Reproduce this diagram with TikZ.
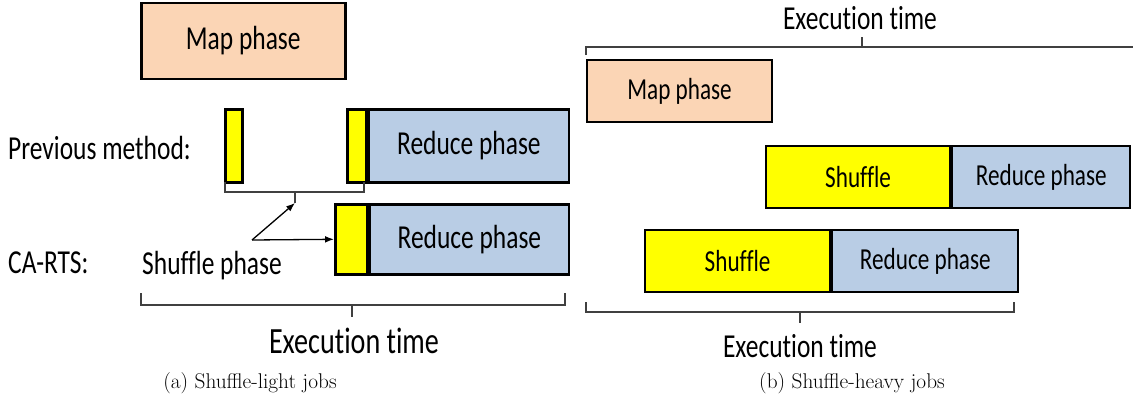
\documentclass[tikz,border=0pt]{standalone}
\usepackage{fontspec}
\newfontfamily\calib[FakeStretch=0.76, Ligatures=NoCommon]{Carlito}
\usetikzlibrary{positioning,arrows.meta}

\definecolor{mapfill}{RGB}{251,213,181}
\definecolor{redfill}{RGB}{185,205,229}
\definecolor{shufill}{RGB}{255,255,0}

\begin{document}
\begin{tikzpicture}[x=1pt, y=-1pt, >=Latex,
    every node/.style={font=\calib\fontsize{33.5}{38}\selectfont, inner sep=0pt},
    mapbox/.style={draw, line width=2.6pt, fill=mapfill, anchor=north west},
    shufbox/.style={draw, line width=2.6pt, fill=shufill, anchor=north west},
    redbox/.style={draw, line width=2.6pt, fill=redfill, anchor=north west},
    brace/.style={draw=black!75, line width=1.1pt},
    small/.style={font=\calib\fontsize{30.5}{35}\selectfont},
    capt/.style={font=\fontsize{21.3}{25}\selectfont}]
  \useasboundingbox (0,0) rectangle (1133,415);

  % (a) shuffle-light
  \node[mapbox, minimum width=204, minimum height=76] (mapa) at (140,1.5) {Map phase};
  \node[anchor=west] (prevl) at (8,148) {Previous method:};
  \node[anchor=west] (carl) at (8,263) {CA-RTS:};

  \node[shufbox, minimum width=17, minimum height=73] (pys1) at (224,108) {};
  \node[shufbox, minimum width=19, minimum height=73] (pys2) at (346,108) {};
  \node[redbox, minimum width=200, minimum height=73] (prd) at (pys2.north east) {Reduce phase};

  \node[shufbox, minimum width=32, minimum height=70] (cys) at (334,203) {};
  \node[redbox, minimum width=199, minimum height=70] (crd) at (cys.north east) {Reduce phase};

  \node (shl) at (212,266) {Shuffle phase};

  \draw[brace] (225,182) -- (225,192) -- (364,192) -- (364,182);
  \draw[brace] (295,192) -- (295,203) coordinate (pb);
  \coordinate (as) at (252,240);
  \draw[->, line width=1.3pt] (as) -- (pb);
  \draw[->, line width=1.3pt] (as) -- (cys.west);

  \draw[brace] (141,293) -- (141,305) -- (565,305) -- (565,293);
  \draw[brace] (352,305) -- (352,317);
  \node[font=\calib\fontsize{37}{42}\selectfont] (exa) at (354,341) {Execution time};
  \node[capt] (capa) at (250,383) {(a) Shuffle-light jobs};

  % (b) shuffle-heavy
  \node (ext) at (860,18) {Execution time};
  \draw[brace] (586,55) -- (586,47) -- (1133,47);
  \draw[brace] (862,47) -- (862,37);
  \node[mapbox, small, line width=2.2pt, minimum width=185, minimum height=62] (mapb) at (586,59) {Map phase};

  \node[shufbox, small, line width=2.2pt, minimum width=184, minimum height=62] (hs1) at (765,145) {Shuffle};
  \node[redbox, small, line width=2.2pt, minimum width=178, minimum height=62] (hr1) at (hs1.north east) {Reduce phase};
  \node[shufbox, small, line width=2.2pt, minimum width=185, minimum height=62] (hs2) at (644,229) {Shuffle};
  \node[redbox, small, line width=2.2pt, minimum width=186, minimum height=62] (hr2) at (hs2.north east) {Reduce phase};

  \draw[brace] (586,302) -- (586,312) -- (1014,312) -- (1014,302);
  \draw[brace] (800,312) -- (800,323);
  \node (exb) at (800,346) {Execution time};
  \node[capt] (capb) at (852,383) {(b) Shuffle-heavy jobs};
\end{tikzpicture}
\end{document}
